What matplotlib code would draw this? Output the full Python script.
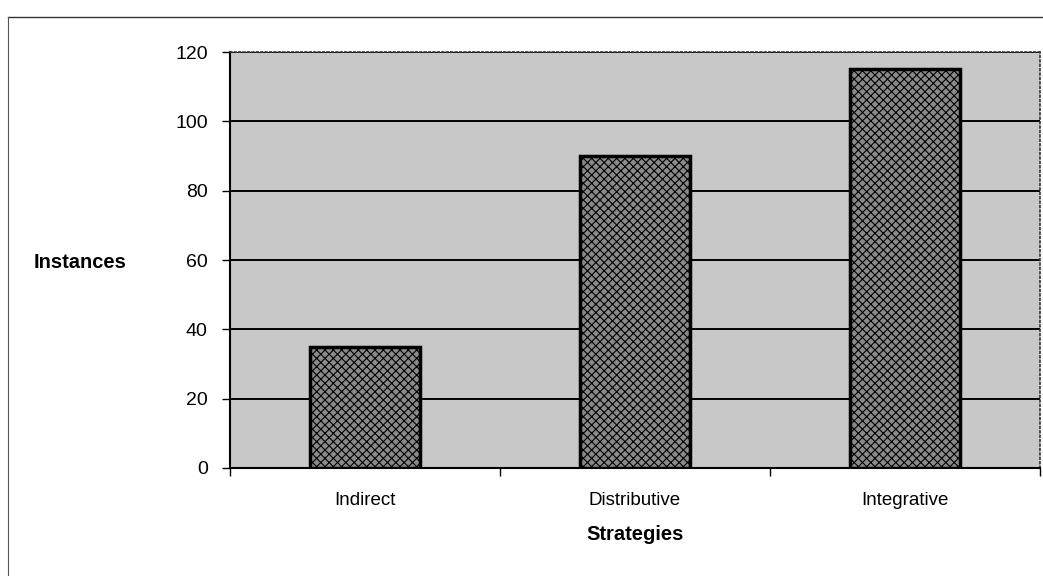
import matplotlib
matplotlib.use("Agg")
import matplotlib.pyplot as plt
from matplotlib.lines import Line2D
import numpy as np

categories = ["Indirect", "Distributive", "Integrative"]
values = [35, 90, 115]
yticks = [0, 20, 40, 60, 80, 100, 120]

plt.rcParams['font.family'] = ['Liberation Sans', 'DejaVu Sans']
plt.rcParams['hatch.color'] = '#3a3a3a'
plt.rcParams['hatch.linewidth'] = 0.8

fig = plt.figure(figsize=(10.43, 5.76), dpi=100)
ax = fig.add_axes([0.2205, 0.1875, 0.7765, 0.7222])
ax.set_facecolor('#c8c8c8')

x = np.arange(len(categories))
ax.set_axisbelow(True)
ax.yaxis.grid(True, color='black', linewidth=1.4)
ax.bar(x, values, width=0.41, color='#8a8a8a', edgecolor='black',
       linewidth=2.5, hatch='xxxx', zorder=3)

ax.set_xlim(-0.5, 2.5)
ax.set_ylim(0, 120)
ax.set_yticks(yticks)
ax.set_xticks(x)
ax.set_xticklabels(categories, fontsize=13.5)
ax.set_xticks([-0.5, 0.5, 1.5, 2.5], minor=True)
ax.tick_params(axis='x', which='major', length=0, pad=17)
ax.tick_params(axis='x', which='minor', length=6, width=1, direction='out')
ax.tick_params(axis='y', length=6, width=1, labelsize=14, pad=10)

for s in ['left', 'bottom']:
    ax.spines[s].set_linewidth(1.5)
    ax.spines[s].set_color('black')
for s in ['top', 'right']:
    ax.spines[s].set_linewidth(1.2)
    ax.spines[s].set_linestyle(':')
    ax.spines[s].set_color('#333333')

ax.set_xlabel("Strategies", fontsize=14.5, fontweight='bold', labelpad=12)
fig.text(0.077, 0.545, "Instances", fontsize=14.5, fontweight='bold',
         ha='center', va='center')

# outer frame
fig.add_artist(Line2D([0.008, 1.0], [0.97, 0.97], color='#333333', linewidth=1.0))
fig.add_artist(Line2D([0.008, 0.008], [0.0, 0.97], color='#555555', linewidth=0.8))

fig.savefig("out.png", dpi=100)
